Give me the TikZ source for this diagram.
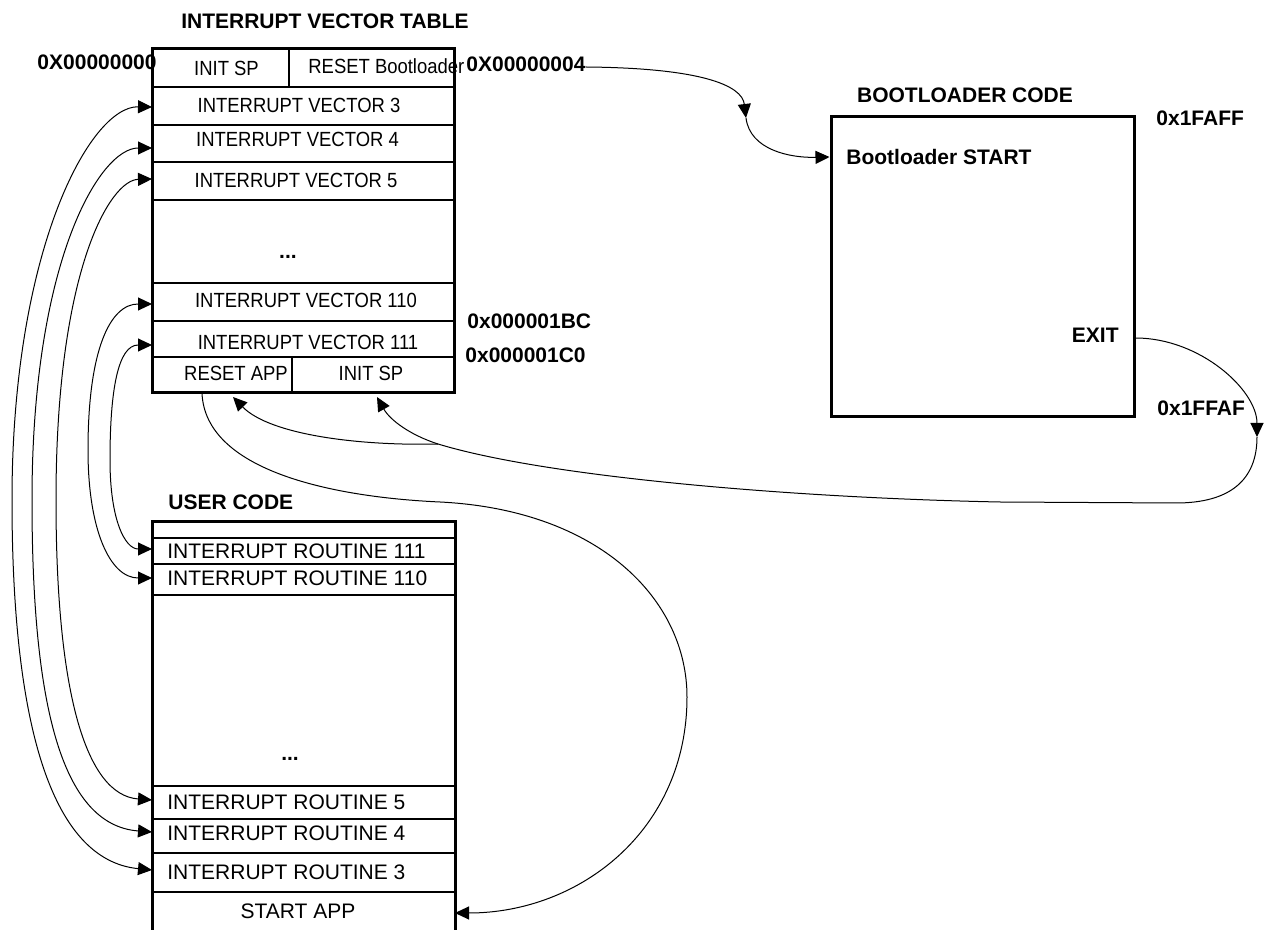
\documentclass[tikz,border=0pt]{standalone}
\usepackage{fontspec}
\setmainfont{Liberation Sans}
\newfontfamily\ivtfont[FakeStretch=0.9]{Liberation Sans}
\usetikzlibrary{arrows.meta,calc}
\begin{document}
\begin{tikzpicture}[x=0.5pt,y=-0.5pt,
  cell/.style={draw, line width=1pt, inner sep=0pt, outer sep=0pt},
  ivt/.style={font=\ivtfont\fontsize{10.25}{12}\selectfont, inner sep=0pt},
  rtn/.style={font=\fontsize{10.5}{12}\selectfont, inner sep=0pt},
  lbl/.style={font=\bfseries\fontsize{10.5}{12}\selectfont, inner sep=0pt},
  link/.style={line width=0.5pt},
  tip/.style={-{Triangle[length=7pt,width=6.5pt]}},
  both/.style={{Triangle[length=7pt,width=6.5pt]}-{Triangle[length=7pt,width=6.5pt]}},
]
\useasboundingbox (0,0) rectangle (1265,930);

% ---------- interrupt vector table ----------
\node[cell, minimum width=68.5pt, minimum height=19pt] (isp) at (220.5,68) {};
\node[cell, minimum width=82.5pt, minimum height=19pt] (rbl) at (371.5,68) {};
\node[cell, minimum width=151pt, minimum height=19pt] (v3) at (303,106) {};
\node[cell, minimum width=151pt, minimum height=18.5pt] (v4) at (303,143.5) {};
\node[cell, minimum width=151pt, minimum height=19pt] (v5) at (303,181) {};
\node[cell, minimum width=151pt, minimum height=41.5pt] (vdots) at (303,241.5) {};
\node[cell, minimum width=151pt, minimum height=19pt] (v110) at (303,302) {};
\node[cell, minimum width=151pt, minimum height=18pt] (v111) at (303,339) {};
\node[cell, minimum width=70pt, minimum height=18pt] (rapp) at (222,375) {};
\node[cell, minimum width=81pt, minimum height=18pt] (isp2) at (373,375) {};
\draw[line width=1.5pt] (isp.north west) rectangle (isp2.south east);

\node[lbl] (ttl) at (325,21) {INTERRUPT VECTOR TABLE};
\node[ivt] (tisp) at (226.5,68) {INIT SP};
\node[ivt, anchor=west] (trbl) at (308,66) {RESET Bootloader};
\node[lbl, anchor=east] (a0) at (157,62) {0X00000000};
\node[lbl, anchor=west] (a4) at (466,64) {0X00000004};
\node[ivt] (tv3) at (299,105) {INTERRUPT VECTOR 3};
\node[ivt] (tv4) at (297.5,139) {INTERRUPT VECTOR 4};
\node[ivt] (tv5) at (296,180) {INTERRUPT VECTOR 5};
\node[lbl] (tvd) at (288,257) {...};
\node[ivt] (tv110) at (306,300) {INTERRUPT VECTOR 110};
\node[ivt] (tv111) at (308,342) {INTERRUPT VECTOR 111};
\node[ivt] (trapp) at (236,373) {RESET APP};
\node[ivt] (tisp2) at (371,373) {INIT SP};
\node[lbl, anchor=west] (a1bc) at (467,321) {0x000001BC};
\node[lbl, anchor=west] (a1c0) at (465,355) {0x000001C0};

% ---------- bootloader ----------
\node[draw, line width=1.5pt, minimum width=151.5pt, minimum height=150pt, inner sep=0pt] (boot) at (982.5,267) {};
\node[lbl] (tboot) at (965,95) {BOOTLOADER CODE};
\node[lbl, anchor=west] (afaff) at (1156,118) {0x1FAFF};
\node[lbl, anchor=west] (bst) at (846,157) {Bootloader START};
\node[lbl, anchor=east] (exit) at (1119,335) {EXIT};
\node[lbl, anchor=west] (affaf) at (1157,408) {0x1FFAF};

% ---------- user code ----------
\node[lbl, anchor=west] (tuser) at (168,502) {USER CODE};
\node[cell, minimum width=151.5pt, minimum height=8pt] (ublank) at (303.5,530) {};
\node[cell, minimum width=151.5pt, minimum height=13pt] (r111) at (303.5,551) {};
\node[cell, minimum width=151.5pt, minimum height=15.5pt] (r110) at (303.5,579.5) {};
\node[cell, minimum width=151.5pt, minimum height=95.5pt] (udots) at (303.5,690.5) {};
\node[cell, minimum width=151.5pt, minimum height=16.5pt] (r5) at (303.5,802.5) {};
\node[cell, minimum width=151.5pt, minimum height=17pt] (r4) at (303.5,836) {};
\node[cell, minimum width=151.5pt, minimum height=19.5pt] (r3) at (303.5,872.5) {};
\node[inner sep=0pt, outer sep=0pt, minimum width=151.5pt, minimum height=19pt] (sapp) at (303.5,911) {};
\draw[line width=1.5pt] (152,932) -- (ublank.north west) -- (ublank.north east) -- (455,932);

\node[rtn, anchor=west] (tr111) at (167,551) {INTERRUPT ROUTINE 111};
\node[rtn, anchor=west] (tr110) at (167,578) {INTERRUPT ROUTINE 110};
\node[lbl] (tud) at (290,759) {...};
\node[rtn, anchor=west] (tr5) at (167,802) {INTERRUPT ROUTINE 5};
\node[rtn, anchor=west] (tr4) at (167,833) {INTERRUPT ROUTINE 4};
\node[rtn, anchor=west] (tr3) at (167,872) {INTERRUPT ROUTINE 3};
\node[rtn] (tsapp) at (298,911) {START APP};

% ---------- connectors ----------
\coordinate (m1) at (746,118);
\draw[link,tip] ([yshift=-1.5pt]a4.east) .. controls (700,68) and (742,85) .. (m1);
\draw[link,tip] (m1) .. controls (750,150) and (790,158) .. (boot.west |- bst.west);

\coordinate (exitpt) at ([yshift=-1.5pt]boot.east |- exit.east);
\coordinate (m2) at (1257,437);
\coordinate (j) at (438,444);
\draw[link,tip] (exitpt) .. controls (1200,338) and (1257,390) .. (m2);
\draw[link,tip] (m2) .. controls (1257,480) and (1230,503) .. (1176,503) -- (1000,502)
  .. controls (800,498) and (550,478) .. (j)
  .. controls (410,435) and (390,420) .. ([xshift=2pt,yshift=-2pt]isp2.south);
\draw[link,tip] (j) .. controls (360,446) and (270,435) .. ([xshift=5.5pt,yshift=-2pt]rapp.south);

\draw[link,tip] ([xshift=-10pt]rapp.south) .. controls (205,470) and (330,497) .. (440,502)
  .. controls (600,510) and (687,600) .. (687,697)
  .. controls (687,830) and (580,913) .. ([yshift=-1pt]sapp.east);

\draw[link,both] ([yshift=-0.5pt]v3.west) .. controls (90,106) and (12,250) .. (12,500)
  .. controls (12,720) and (50,860) .. ([yshift=1.25pt]r3.west);
\draw[link,both] ([yshift=-2.25pt]v4.west) .. controls (100,148) and (32,260) .. (32,500)
  .. controls (32,700) and (60,825) .. ([yshift=2pt]r4.west);
\draw[link,both] ([yshift=1pt]v5.west) .. controls (110,180) and (56,270) .. (56,500)
  .. controls (56,690) and (85,795) .. ([yshift=1.25pt]r5.west);
\draw[link,both] ([yshift=-1pt]v110.west) .. controls (110,304) and (88,350) .. (88,450)
  .. controls (88,530) and (110,578) .. ([yshift=0.75pt]r110.west);
\draw[link,both] ([yshift=-3pt]v111.west) .. controls (118,345) and (110,390) .. (110,460)
  .. controls (110,520) and (125,549) .. ([yshift=1pt]r111.west);
\end{tikzpicture}
\end{document}
